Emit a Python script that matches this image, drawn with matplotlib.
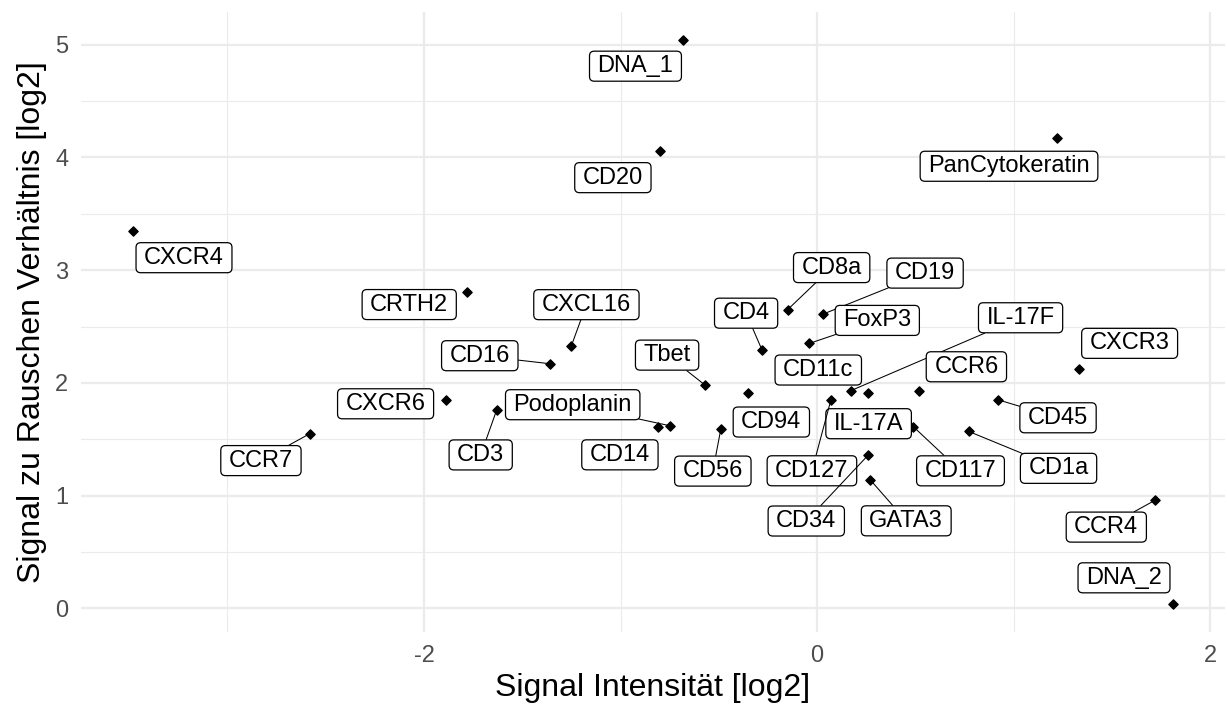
import numpy as np
import matplotlib.pyplot as plt
from matplotlib.patches import BoxStyle


plt.rcParams['font.family'] = ['Liberation Sans', 'DejaVu Sans']
plt.rcParams['axes.unicode_minus'] = False

# marker names and their log2 values
markers = ['DNA_1', 'CD20', 'PanCytokeratin', 'CXCR4', 'CRTH2', 'CXCL16', 'CD16',
		'CXCR6', 'CCR7', 'CD3', 'Podoplanin', 'CD14', 'Tbet', 'CD94', 'CD56', 'CD4',
		'CD8a', 'CD19', 'FoxP3', 'IL-17F', 'CD11c', 'CCR6', 'CXCR3', 'CD45', 'IL-17A',
		'CD127', 'CD117', 'CD1a', 'CD34', 'GATA3', 'CCR4', 'DNA_2']
intensity = [-0.68, -0.80, 1.22, -3.48, -1.78, -1.25, -1.36,
		-1.89, -2.58, -1.63, -0.75, -0.81, -0.57, -0.35, -0.49, -0.28,
		-0.15, 0.03, -0.04, 0.17, 0.26, 0.52, 1.33, 0.92, 0.16,
		0.07, 0.49, 0.77, 0.26, 0.27, 1.72, 1.81]
snr = [5.04, 4.06, 4.17, 3.35, 2.81, 2.33, 2.17,
		1.85, 1.55, 1.76, 1.62, 1.61, 1.98, 1.91, 1.59, 2.29,
		2.65, 2.61, 2.35, 1.93, 1.91, 1.93, 2.12, 1.85, 1.70,
		1.85, 1.61, 1.57, 1.36, 1.14, 0.96, 0.04]

# where each label box sits relative to its point (pixels, right / up)
label_offset = {
	'DNA_1': (-48, -26), 'CD20': (-47, -27), 'PanCytokeratin': (-48, -28),
	'CXCR4': (51, -27), 'CRTH2': (-58, -13), 'CXCL16': (15, 41), 'CD16': (-70, 8),
	'CXCR6': (-60, -4), 'CCR7': (-49, -27), 'CD3': (-16, -45), 'Podoplanin': (-97, 21),
	'CD14': (-38, -28), 'Tbet': (-38, 30), 'CD94': (23, -29), 'CD56': (-8, -42),
	'CD4': (-16, 37), 'CD8a': (44, 42), 'CD19': (102, 41), 'FoxP3': (68, 23),
	'IL-17F': (170, 73), 'CD11c': (-50, 23), 'CCR6': (47, 24), 'CXCR3': (51, 26),
	'CD45': (60, -18), 'IL-17A': (20, -7), 'CD127': (-19, -71), 'CD117': (47, -44),
	'CD1a': (90, -37), 'CD34': (-62, -66), 'GATA3': (36, -41), 'CCR4': (-49, -27),
	'DNA_2': (-49, 26)}
with_segment = {'CXCL16', 'CD16', 'CCR7', 'CD3', 'Podoplanin', 'Tbet', 'CD4', 'CD8a',
		'CD19', 'FoxP3', 'IL-17F', 'CD56', 'CD127', 'CD117', 'CD1a', 'CD34',
		'GATA3', 'CCR4', 'CD45'}


def label_box(x0, y0, width, height, mutation_size):
	# ggrepel-like box: wider padding left/right than top/bottom
	px = 0.34 * mutation_size
	py = 0.17 * mutation_size
	rnd = BoxStyle.Round(pad=0, rounding_size=0.2)
	return rnd(x0 - px, y0 - py, width + 2*px, height + 2*py, mutation_size)


fig = plt.figure(figsize=(12.27, 7.13), dpi=100)
ax = fig.add_axes([81/1227, 81/713, 1144/1227, 620/713])

x = np.array(intensity)
y = np.array(snr)
xr = x.max() - x.min()
yr = y.max() - y.min()
ax.set_xlim(x.min() - 0.05*xr, x.max() + 0.05*xr)
ax.set_ylim(y.min() - 0.05*yr, y.max() + 0.05*yr)

ax.set_xticks([-2, 0, 2])
ax.set_xticks([-3, -1, 1], minor=True)
ax.set_yticks([0, 1, 2, 3, 4, 5])
ax.set_yticks([0.5, 1.5, 2.5, 3.5, 4.5], minor=True)
ax.grid(which='major', color='#EBEBEB', lw=1.6)
ax.grid(which='minor', color='#EBEBEB', lw=0.8)
ax.set_axisbelow(True)
for s in ax.spines.values():
	s.set_visible(False)
ax.tick_params(which='both', length=0, labelsize=17, labelcolor='#4D4D4D')
ax.tick_params(axis='x', pad=9)
ax.tick_params(axis='y', pad=9)

ax.scatter(x, y, marker='D', s=22, color='black', zorder=3)

for name, xi, yi in zip(markers, intensity, snr):
	dx, dy = label_offset[name]
	arrow = None
	if name in with_segment:
		arrow = dict(arrowstyle='-', color='black', lw=0.75, shrinkA=0, shrinkB=0)
	ax.annotate(name, xy=(xi, yi), xytext=(dx, dy), textcoords='offset pixels',
			ha='center', va='center', fontsize=17, color='black', zorder=4,
			bbox=dict(boxstyle=label_box, fc='white', ec='black', lw=0.9),
			arrowprops=arrow)

ax.set_xlabel('Signal Intensität [log2]', fontsize=23, labelpad=5)
ax.set_ylabel('Signal zu Rauschen Verhältnis [log2]', fontsize=23, labelpad=6)

fig.savefig('out.png', dpi=100)
